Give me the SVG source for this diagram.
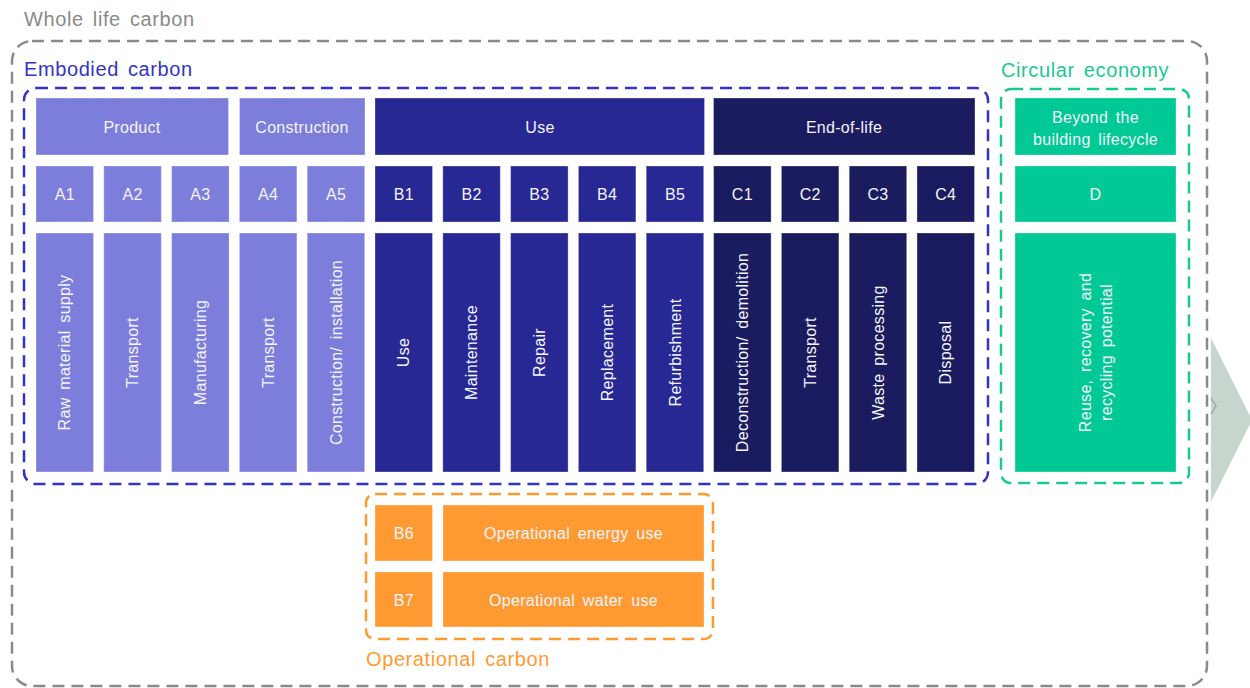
<svg xmlns="http://www.w3.org/2000/svg" width="1250" height="688" viewBox="0 0 1250 688">
<style>
text{font-family:"Liberation Sans",Arial,sans-serif;}
.t{fill:#f4f4fb;font-size:16px;text-anchor:middle;letter-spacing:0.3px;word-spacing:3px;}
.v{fill:#f4f4fb;font-size:16px;text-anchor:middle;dominant-baseline:central;letter-spacing:0.3px;word-spacing:3px;}
.lbl{font-size:20px;letter-spacing:0.6px;word-spacing:3px;}
.pr{fill:#7d7edc;stroke:#ffffff;stroke-opacity:0.3;stroke-width:1;}
.us{fill:#272894;stroke:#ffffff;stroke-opacity:0.3;stroke-width:1;}
.en{fill:#1b1b5f;stroke:#ffffff;stroke-opacity:0.3;stroke-width:1;}
.gr{fill:#00c995;stroke:#ffffff;stroke-opacity:0.3;stroke-width:1;}
.or{fill:#ff9a33;stroke:#ffffff;stroke-opacity:0.3;stroke-width:1;}
.frame{fill:none;stroke-width:2.5;stroke-dasharray:12 7;}
</style>

<g id="whole-life-carbon">
<rect class="frame" x="12" y="41" width="1195" height="645" rx="20" stroke="#8a8a8a"/>
<text class="lbl" x="24" y="26" fill="#8a8a8a">Whole life carbon</text>
</g>

<g id="connectors">
<polygon points="1211,338 1252,420 1211,502" fill="#c6d6cd"/>
<polyline points="1211,398 1216,406 1211,414" fill="none" stroke="#9bb2a6" stroke-width="1.5"/>
</g>

<g id="embodied-carbon">
<rect class="frame" x="24" y="88" width="964" height="396" rx="12" stroke="#3434c4"/>
<text class="lbl" x="24" y="76" fill="#3434c4">Embodied carbon</text>
</g>

<g id="circular-economy">
<rect class="frame" x="1001" y="89" width="188" height="394" rx="10" stroke="#19c995"/>
<text class="lbl" x="1001" y="77" fill="#19c995">Circular economy</text>
</g>

<g id="operational-carbon">
<rect class="frame" x="366" y="494" width="347" height="145" rx="9" stroke="#ff9a33"/>
<text class="lbl" x="366" y="666" fill="#ff9a33">Operational carbon</text>
</g>

<g id="hdr-product"><rect class="pr" x="36" y="98" width="192.5" height="57"/><text class="t" x="132" y="133">Product</text></g>
<g id="hdr-construction"><rect class="pr" x="239.5" y="98" width="125.5" height="57"/><text class="t" x="302" y="133">Construction</text></g>
<g id="hdr-use"><rect class="us" x="375" y="98" width="329.5" height="57"/><text class="t" x="540" y="133">Use</text></g>
<g id="hdr-eol"><rect class="en" x="713.5" y="98" width="261.5" height="57"/><text class="t" x="844" y="133">End-of-life</text></g>

<g id="A1"><rect class="pr" x="36" y="166" width="57.5" height="56"/><text class="t" x="64.8" y="200">A1</text><rect class="pr" x="36" y="233" width="57.5" height="239"/><text class="v" transform="translate(64.8,352.5) rotate(-90)">Raw material supply</text></g>
<g id="A2"><rect class="pr" x="103.8" y="166" width="57.5" height="56"/><text class="t" x="132.6" y="200">A2</text><rect class="pr" x="103.8" y="233" width="57.5" height="239"/><text class="v" transform="translate(132.6,352.5) rotate(-90)">Transport</text></g>
<g id="A3"><rect class="pr" x="171.6" y="166" width="57.5" height="56"/><text class="t" x="200.4" y="200">A3</text><rect class="pr" x="171.6" y="233" width="57.5" height="239"/><text class="v" transform="translate(200.4,352.5) rotate(-90)">Manufacturing</text></g>
<g id="A4"><rect class="pr" x="239.4" y="166" width="57.5" height="56"/><text class="t" x="268.2" y="200">A4</text><rect class="pr" x="239.4" y="233" width="57.5" height="239"/><text class="v" transform="translate(268.2,352.5) rotate(-90)">Transport</text></g>
<g id="A5"><rect class="pr" x="307.2" y="166" width="57.5" height="56"/><text class="t" x="336" y="200">A5</text><rect class="pr" x="307.2" y="233" width="57.5" height="239"/><text class="v" transform="translate(336,352.5) rotate(-90)">Construction/ installation</text></g>
<g id="B1"><rect class="us" x="375" y="166" width="57.5" height="56"/><text class="t" x="403.8" y="200">B1</text><rect class="us" x="375" y="233" width="57.5" height="239"/><text class="v" transform="translate(403.8,352.5) rotate(-90)">Use</text></g>
<g id="B2"><rect class="us" x="442.8" y="166" width="57.5" height="56"/><text class="t" x="471.6" y="200">B2</text><rect class="us" x="442.8" y="233" width="57.5" height="239"/><text class="v" transform="translate(471.6,352.5) rotate(-90)">Maintenance</text></g>
<g id="B3"><rect class="us" x="510.6" y="166" width="57.5" height="56"/><text class="t" x="539.4" y="200">B3</text><rect class="us" x="510.6" y="233" width="57.5" height="239"/><text class="v" transform="translate(539.4,352.5) rotate(-90)">Repair</text></g>
<g id="B4"><rect class="us" x="578.4" y="166" width="57.5" height="56"/><text class="t" x="607.2" y="200">B4</text><rect class="us" x="578.4" y="233" width="57.5" height="239"/><text class="v" transform="translate(607.2,352.5) rotate(-90)">Replacement</text></g>
<g id="B5"><rect class="us" x="646.2" y="166" width="57.5" height="56"/><text class="t" x="675" y="200">B5</text><rect class="us" x="646.2" y="233" width="57.5" height="239"/><text class="v" transform="translate(675,352.5) rotate(-90)">Refurbishment</text></g>
<g id="C1"><rect class="en" x="713.6" y="166" width="57.5" height="56"/><text class="t" x="742.4" y="200">C1</text><rect class="en" x="713.6" y="233" width="57.5" height="239"/><text class="v" transform="translate(742.4,352.5) rotate(-90)">Deconstruction/ demolition</text></g>
<g id="C2"><rect class="en" x="781.4" y="166" width="57.5" height="56"/><text class="t" x="810.2" y="200">C2</text><rect class="en" x="781.4" y="233" width="57.5" height="239"/><text class="v" transform="translate(810.2,352.5) rotate(-90)">Transport</text></g>
<g id="C3"><rect class="en" x="849.2" y="166" width="57.5" height="56"/><text class="t" x="878" y="200">C3</text><rect class="en" x="849.2" y="233" width="57.5" height="239"/><text class="v" transform="translate(878,352.5) rotate(-90)">Waste processing</text></g>
<g id="C4"><rect class="en" x="917" y="166" width="57.5" height="56"/><text class="t" x="945.8" y="200">C4</text><rect class="en" x="917" y="233" width="57.5" height="239"/><text class="v" transform="translate(945.8,352.5) rotate(-90)">Disposal</text></g>

<g id="hdr-beyond"><rect class="gr" x="1015" y="98" width="161" height="57"/><text class="t" x="1095.5" y="123">Beyond the</text><text class="t" x="1095.5" y="145">building lifecycle</text></g>
<g id="D"><rect class="gr" x="1015" y="166" width="161" height="56"/><text class="t" x="1095.5" y="200">D</text><rect class="gr" x="1015" y="233" width="161" height="239"/><text class="v" transform="translate(1085,352.5) rotate(-90)">Reuse, recovery and</text><text class="v" transform="translate(1106,352.5) rotate(-90)">recycling potential</text></g>

<g id="B6"><rect class="or" x="375" y="505" width="57.5" height="56"/><text class="t" x="403.8" y="539">B6</text><rect class="or" x="443" y="505" width="261" height="56"/><text class="t" x="573.5" y="539">Operational energy use</text></g>
<g id="B7"><rect class="or" x="375" y="572" width="57.5" height="55"/><text class="t" x="403.8" y="606">B7</text><rect class="or" x="443" y="572" width="261" height="55"/><text class="t" x="573.5" y="606">Operational water use</text></g>
</svg>
